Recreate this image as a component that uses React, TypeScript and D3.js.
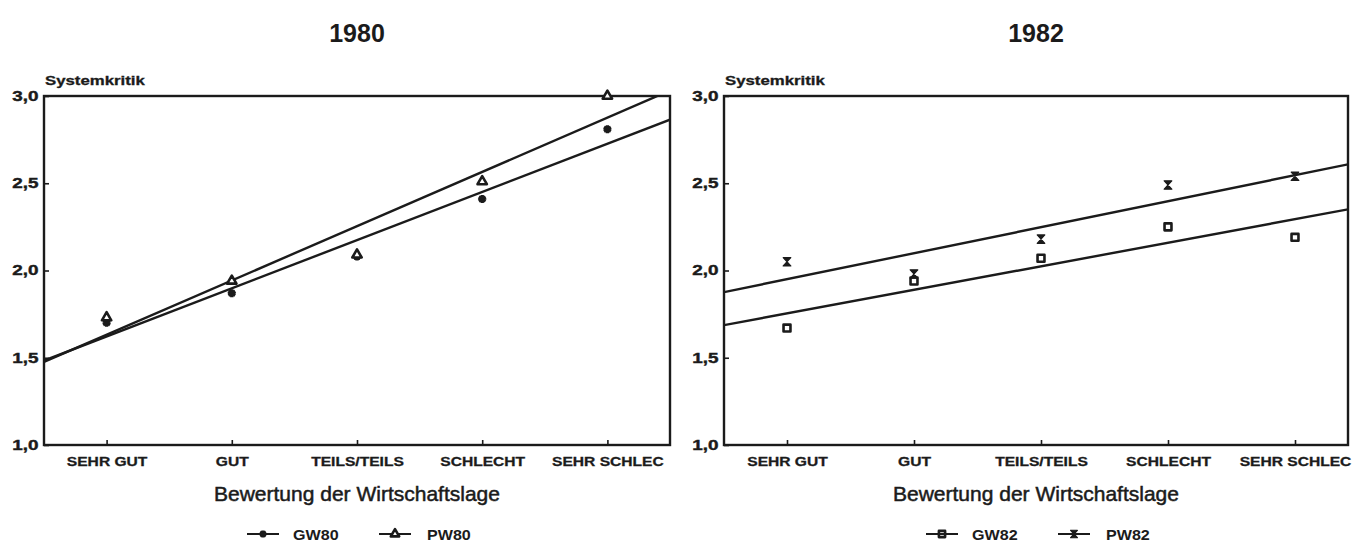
import React, { useRef, useEffect } from "react";
import * as d3 from "d3";

// chart data
const categories = ["SEHR GUT", "GUT", "TEILS/TEILS", "SCHLECHT", "SEHR SCHLEC"];
const yTicks = [1.0, 1.5, 2.0, 2.5, 3.0];
const gw80 = [1.70, 1.87, 2.08, 2.41, 2.81];
const pw80 = [1.73, 1.94, 2.09, 2.51, 3.0];
const gw82 = [1.67, 1.94, 2.07, 2.25, 2.19];
const pw82 = [2.05, 1.98, 2.18, 2.49, 2.54];
const yLabel = "Systemkritik";
const xLabel = "Bewertung der Wirtschaftslage";

const W = 1363;
const H = 547;
const ink = "#1b1b1b";
const font = "'Liberation Sans', Arial, sans-serif";

// vertical hourglass marker used for PW82
const symbolHourglass = {
    draw(ctx: any, size: number) {
        const r = Math.sqrt(size) / 2;
        ctx.moveTo(-r, -r * 1.1);
        ctx.lineTo(r, -r * 1.1);
        ctx.lineTo(-r, r * 1.1);
        ctx.lineTo(r, r * 1.1);
        ctx.closePath();
    }
};

const markers: any = {
    star: { type: d3.symbolAsterisk, size: 45, fill: "none", sw: 3.4 },
    triangle: { type: d3.symbolTriangle, size: 38, fill: "#fff", sw: 2.6 },
    square: { type: d3.symbolSquare, size: 48, fill: "none", sw: 2.6 },
    hourglass: { type: symbolHourglass, size: 58, fill: ink, sw: 1.2 },
};

const panels = [
    {
        title: "1980", box: [44, 670], ticks: [106.6, 607.4],
        series: [
            { name: "GW80", values: gw80, marker: "star" },
            { name: "PW80", values: pw80, marker: "triangle" },
        ]
    },
    {
        title: "1982", box: [724, 1348], ticks: [787, 1295],
        series: [
            { name: "GW82", values: gw82, marker: "square" },
            { name: "PW82", values: pw82, marker: "hourglass" },
        ]
    },
];

// least squares fit on category index
const fit = (values: number[]) => {
    const xs = values.map((d, i) => i);
    const mx = d3.mean(xs)!;
    const my = d3.mean(values)!;
    const slope = d3.sum(xs, (xi, i) => (xi - mx) * (values[i] - my)) / d3.sum(xs, xi => (xi - mx) ** 2);
    return (xi: number) => my + slope * (xi - mx);
};

const drawMarker = (sel: any, key: string, px: number, py: number, scale = 1) => {
    const m = markers[key];
    sel.append("path")
        .attr("d", d3.symbol().type(m.type).size(m.size * scale)())
        .attr("transform", `translate(${px},${py})`)
        .attr("fill", m.fill)
        .attr("stroke", ink)
        .attr("stroke-width", m.sw)
        .attr("stroke-linejoin", "round");
};

const drawPanel = (svg: any, p: any, pi: number) => {
    const [left, right] = p.box;
    const top = 96;
    const bottom = 445;
    const cx = (left + right) / 2;
    const x = d3.scaleLinear().domain([0, categories.length - 1]).range(p.ticks);
    const y = d3.scaleLinear().domain([1, 3]).range([bottom, top]);

    const g = svg.append("g").attr("font-family", font).attr("fill", ink);

    const clipId = "clip" + pi;
    svg.append("defs").append("clipPath").attr("id", clipId)
        .append("rect")
        .attr("x", left).attr("y", top)
        .attr("width", right - left).attr("height", bottom - top);

    g.append("text")
        .attr("x", cx).attr("y", 42)
        .attr("text-anchor", "middle")
        .attr("font-size", 25).attr("font-weight", "bold")
        .text(p.title);

    g.append("text")
        .attr("transform", `translate(${left + 1},85) scale(1.4,1)`)
        .attr("font-size", 12).attr("font-weight", "bold")
        .attr("stroke", ink).attr("stroke-width", 0.3)
        .text(yLabel);

    const xAxis = d3.axisBottom(x)
        .tickValues(d3.range(categories.length))
        .tickFormat((i: any) => categories[i])
        .tickSizeInner(-5).tickSizeOuter(0).tickPadding(12);
    const xg = g.append("g").attr("transform", `translate(0,${bottom})`).call(xAxis);
    xg.attr("font-family", font).attr("font-size", 13).attr("font-weight", "bold");
    xg.select(".domain").remove();
    xg.selectAll("line").attr("stroke", ink).attr("stroke-width", 1.6);
    xg.selectAll("text").attr("fill", ink).attr("transform", "scale(1.2,1)")
        .attr("stroke", ink).attr("stroke-width", 0.3);

    const yAxis = d3.axisLeft(y)
        .tickValues(yTicks)
        .tickFormat((d: any) => d3.format(".1f")(d).replace(".", ","))
        .tickSizeInner(-5).tickSizeOuter(0).tickPadding(4);
    const yg = g.append("g").attr("transform", `translate(${left},0)`).call(yAxis);
    yg.attr("font-family", font).attr("font-size", 14).attr("font-weight", "bold");
    yg.select(".domain").remove();
    yg.selectAll("line").attr("stroke", ink).attr("stroke-width", 1.6);
    yg.selectAll("text").attr("fill", ink).attr("transform", "scale(1.35,1)")
        .attr("stroke", ink).attr("stroke-width", 0.4);

    g.append("rect")
        .attr("x", left).attr("y", top)
        .attr("width", right - left).attr("height", bottom - top)
        .attr("fill", "none").attr("stroke", ink).attr("stroke-width", 2.4);

    // regression lines over the full box width
    const xa = x.invert(left);
    const xb = x.invert(right);
    p.series.forEach((s: any) => {
        const f = fit(s.values);
        g.append("path")
            .attr("clip-path", `url(#${clipId})`)
            .attr("d", d3.line<number>().x(d => x(d)).y(d => y(f(d)))([xa, xb]))
            .attr("fill", "none")
            .attr("stroke", ink)
            .attr("stroke-width", 2.4);
    });
    p.series.forEach((s: any) => {
        s.values.forEach((v: number, i: number) => drawMarker(g, s.marker, x(i), y(v)));
    });

    g.append("text")
        .attr("x", cx).attr("y", 501)
        .attr("text-anchor", "middle")
        .attr("font-size", 21)
        .attr("stroke", ink).attr("stroke-width", 0.5)
        .text(xLabel);

    // legend
    const ly = 534;
    const offsets = [[-110, -64], [22, 70]];
    p.series.forEach((s: any, i: number) => {
        const [lo, to] = offsets[i];
        g.append("line")
            .attr("x1", cx + lo).attr("x2", cx + lo + 32)
            .attr("y1", ly).attr("y2", ly)
            .attr("stroke", ink).attr("stroke-width", 2);
        drawMarker(g, s.marker, cx + lo + 16, ly, 0.8);
        g.append("text")
            .attr("transform", `translate(${cx + to},${ly + 6}) scale(1.15,1)`)
            .attr("font-size", 14).attr("font-weight", "bold")
            .text(s.name);
    });
};

const App = () => {
    const ref = useRef<SVGSVGElement>(null);

    useEffect(() => {
        const svg = d3.select(ref.current);
        svg.selectAll("*").remove();
        panels.forEach((p, pi) => drawPanel(svg, p, pi));
    }, []);

    return <svg ref={ref} width={W} height={H}
        style={{ position: "absolute", left: 0, top: 0, background: "#fff" }} />;
};

export default App;
